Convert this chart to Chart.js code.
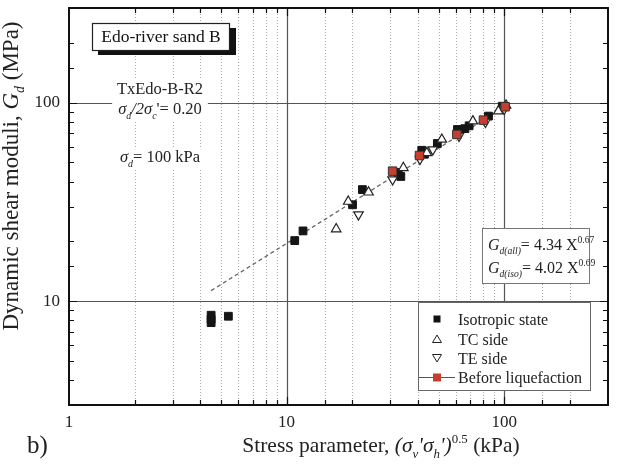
<!DOCTYPE html>
<html>
<head>
<meta charset="utf-8">
<script src="https://cdn.jsdelivr.net/npm/chart.js@4/dist/chart.umd.min.js"></script>
<style>
  body { margin: 0; background: #fff; }
  canvas { display: block; }
</style>
</head>
<body>
<canvas id="graphe" width="620" height="466"></canvas>
<script>
// ==== données ====

// Isotropic state (carrés noirs)
const xIso = [4.5, 4.5, 4.5, 5.4, 10.9, 11.9, 20.1, 22.3, 32.5, 33.5, 41.8, 43, 49.3, 61, 66, 69, 84.7, 98];
const yIso = [8.5, 8.1, 7.8, 8.4, 20.2, 22.6, 30.6, 36.5, 44.5, 42.5, 57.6, 55, 62.3, 73.3, 74, 76.5, 85.6, 96];

// TC side (triangles vers le haut)
const xTC = [16.9, 19.2, 23.8, 34.4, 44.1, 51.7, 71.8, 94, 102];
const yTC = [23.1, 31.8, 35.4, 47, 55.9, 65.3, 80.8, 90.7, 97];

// TE side (triangles vers le bas)
const xTE = [21.4, 30.7, 41, 47, 62, 82, 100];
const yTE = [27.3, 41.0, 52, 58, 68, 80, 93];

// Before liquefaction (carrés rouges)
const xAvant = [30.7, 40.8, 60.6, 80.3, 101];
const yAvant = [45.2, 54.2, 69.2, 81.7, 95.4];

// droite de régression (extrémités lues)
const xRegression = [4.5, 100];
const yRegression = [11.3, 95];

// étiquettes des axes
const xTickLabels = [1, 10, 100];
const yTickLabels = [10, 100];

const police = 'Liberation Serif';
const rouge = '#c63e2d';

function points(xs, ys) {
  return xs.map((v, i) => ({x: v, y: ys[i]}));
}

// ==== texte avec indices / exposants ====
function mesureRiche(ctx, morceaux, taille) {
  let w = 0;
  morceaux.forEach(m => {
    ctx.font = (m.it ? 'italic ' : '') + (m.pos ? taille * 0.6 : taille) + 'px "' + police + '"';
    w += ctx.measureText(m.t).width;
  });
  return w;
}

function texteRiche(ctx, morceaux, x, y, taille, centre) {
  const largeur = mesureRiche(ctx, morceaux, taille);
  let cx = centre ? x - largeur / 2 : x;
  ctx.textAlign = 'left';
  ctx.textBaseline = 'alphabetic';
  morceaux.forEach(m => {
    ctx.font = (m.it ? 'italic ' : '') + (m.pos ? taille * 0.6 : taille) + 'px "' + police + '"';
    const dy = m.pos === -1 ? taille * 0.28 : (m.pos === 1 ? -taille * 0.42 : 0);
    ctx.fillText(m.t, cx, y + dy);
    cx += ctx.measureText(m.t).width;
  });
  return largeur;
}

// ==== grille, cadre et annotations ====
const grille = {
  id: 'grille',
  beforeDatasetsDraw(chart) {
    const {ctx, chartArea: {top, bottom, left, right}, scales: {x, y}} = chart;
    ctx.save();
    // lignes verticales
    x.ticks.forEach(t => {
      const px = Math.round(x.getPixelForValue(t.value)) + 0.5;
      if (px <= left + 1 || px >= right - 1) return;
      ctx.beginPath();
      if (xTickLabels.includes(t.value)) {
        ctx.setLineDash([]);
        ctx.strokeStyle = '#555';
        ctx.lineWidth = 1.2;
      } else {
        ctx.setLineDash([1, 2]);
        ctx.strokeStyle = '#aaa';
        ctx.lineWidth = 1;
      }
      ctx.moveTo(px, top);
      ctx.lineTo(px, bottom);
      ctx.stroke();
    });
    // lignes horizontales (décades seulement)
    ctx.setLineDash([]);
    ctx.strokeStyle = '#555';
    ctx.lineWidth = 1.2;
    yTickLabels.forEach(v => {
      const py = Math.round(y.getPixelForValue(v)) + 0.5;
      ctx.beginPath();
      ctx.moveTo(left, py);
      ctx.lineTo(right, py);
      ctx.stroke();
    });

    // textes en haut à gauche, sur fond blanc
    const lignes = [
      {m: [{t: 'TxEdo-B-R2'}], y: 94},
      {m: [{t: 'σ', it: 1}, {t: 'd', it: 1, pos: -1}, {t: '/2σ', it: 1}, {t: 'c', it: 1, pos: -1}, {t: '\'= 0.20'}], y: 114},
      {m: [{t: 'σ', it: 1}, {t: 'd', it: 1, pos: -1}, {t: '= 100 kPa'}], y: 162}
    ];
    lignes.forEach(l => {
      const w = mesureRiche(ctx, l.m, 16.5);
      ctx.fillStyle = '#fff';
      ctx.fillRect(160 - w / 2 - 6, l.y - 14, w + 12, 20);
      ctx.fillStyle = '#222';
      texteRiche(ctx, l.m, 160, l.y, 16.5, true);
    });

    // cartouche du titre avec ombre
    ctx.fillStyle = '#111';
    ctx.fillRect(98, 28, 138, 27);
    ctx.fillStyle = '#fff';
    ctx.fillRect(92, 23, 137, 27);
    ctx.strokeStyle = '#222';
    ctx.lineWidth = 1.2;
    ctx.strokeRect(92.5, 23.5, 137, 27);
    ctx.fillStyle = '#111';
    texteRiche(ctx, [{t: 'Edo-river sand B'}], 161, 42, 17.5, true);
    ctx.restore();
  },
  afterDatasetsDraw(chart) {
    const {ctx, chartArea: {top, bottom, left, right}, scales: {x, y}} = chart;
    ctx.save();
    ctx.setLineDash([]);
    ctx.strokeStyle = '#111';
    ctx.lineWidth = 1.2;
    // graduations intérieures
    x.ticks.forEach(t => {
      const px = Math.round(x.getPixelForValue(t.value)) + 0.5;
      if (px <= left + 1 || px >= right - 1) return;
      const l = xTickLabels.includes(t.value) ? 8 : 5;
      ctx.beginPath();
      ctx.moveTo(px, bottom); ctx.lineTo(px, bottom - l);
      ctx.moveTo(px, top); ctx.lineTo(px, top + l);
      ctx.stroke();
    });
    y.ticks.forEach(t => {
      const py = Math.round(y.getPixelForValue(t.value)) + 0.5;
      if (py <= top + 1 || py >= bottom - 1) return;
      const l = yTickLabels.includes(t.value) ? 8 : 5;
      ctx.beginPath();
      ctx.moveTo(left, py); ctx.lineTo(left + l, py);
      ctx.moveTo(right, py); ctx.lineTo(right - l, py);
      ctx.stroke();
    });
    // cadre
    ctx.lineWidth = 2;
    ctx.strokeRect(left, top, right - left, bottom - top);

    // encadré des équations
    ctx.fillStyle = '#fff';
    ctx.fillRect(482, 228, 107, 55);
    ctx.strokeStyle = '#777';
    ctx.lineWidth = 1;
    ctx.strokeRect(482.5, 228.5, 107, 55);
    ctx.fillStyle = '#222';
    texteRiche(ctx, [{t: 'G', it: 1}, {t: 'd(all)', it: 1, pos: -1}, {t: '= 4.34 X'}, {t: '0.67', pos: 1}], 488, 250, 16, false);
    texteRiche(ctx, [{t: 'G', it: 1}, {t: 'd(iso)', it: 1, pos: -1}, {t: '= 4.02 X'}, {t: '0.69', pos: 1}], 488, 273, 16, false);

    // légende
    ctx.fillStyle = '#fff';
    ctx.fillRect(418, 302, 172, 88);
    ctx.strokeStyle = '#666';
    ctx.strokeRect(418.5, 302.5, 172, 88);
    const mx = 437;
    const rangs = [319, 339, 358, 377];
    // carré noir
    ctx.fillStyle = '#111';
    ctx.fillRect(mx - 3.5, rangs[0] - 3.5, 7, 7);
    // triangle haut
    ctx.strokeStyle = '#222';
    ctx.lineWidth = 1;
    ctx.beginPath();
    ctx.moveTo(mx, rangs[1] - 4); ctx.lineTo(mx + 4.5, rangs[1] + 3.5); ctx.lineTo(mx - 4.5, rangs[1] + 3.5); ctx.closePath();
    ctx.stroke();
    // triangle bas
    ctx.beginPath();
    ctx.moveTo(mx, rangs[2] + 4); ctx.lineTo(mx + 4.5, rangs[2] - 3.5); ctx.lineTo(mx - 4.5, rangs[2] - 3.5); ctx.closePath();
    ctx.stroke();
    // trait + carré rouge
    ctx.strokeStyle = '#555';
    ctx.lineWidth = 1.2;
    ctx.beginPath();
    ctx.moveTo(419, rangs[3] + 0.5); ctx.lineTo(455, rangs[3] + 0.5);
    ctx.stroke();
    ctx.fillStyle = rouge;
    ctx.fillRect(mx - 4, rangs[3] - 3.5, 8, 8);
    ctx.fillStyle = '#222';
    const noms = chart.data.datasets.filter(d => d.legende).map(d => d.label);
    noms.forEach((n, i) => texteRiche(ctx, [{t: n}], 458, rangs[i] + 6, 16, false));
    ctx.restore();
  },
  afterDraw(chart) {
    const {ctx} = chart;
    ctx.save();
    ctx.fillStyle = '#222';
    // titre axe x
    texteRiche(ctx, [{t: 'Stress parameter, '}, {t: '(σ', it: 1}, {t: 'v', it: 1, pos: -1}, {t: '\'σ', it: 1},
      {t: 'h', it: 1, pos: -1}, {t: '\')', it: 1}, {t: '0.5', pos: 1}, {t: ' (kPa)'}], 381, 452, 21.5, true);
    // titre axe y
    ctx.translate(18, 176);
    ctx.rotate(-Math.PI / 2);
    texteRiche(ctx, [{t: 'Dynamic shear moduli, '}, {t: 'G', it: 1}, {t: 'd', it: 1, pos: -1}, {t: ' (MPa)'}], 0, 0, 23, true);
    ctx.restore();
    ctx.save();
    ctx.fillStyle = '#222';
    texteRiche(ctx, [{t: 'b)'}], 27, 453, 25, false);
    ctx.restore();
  }
};

const data = {
  datasets: [
    {
      label: 'Isotropic state', legende: true,
      data: points(xIso, yIso),
      pointStyle: 'rect', pointRadius: 5.5,
      backgroundColor: '#151515', borderColor: '#151515', borderWidth: 1,
      order: 4
    },
    {
      label: 'TC side', legende: true,
      data: points(xTC, yTC),
      pointStyle: 'triangle', pointRadius: 5.5,
      backgroundColor: '#fff', borderColor: '#222', borderWidth: 1.2,
      order: 3
    },
    {
      label: 'TE side', legende: true,
      data: points(xTE, yTE),
      pointStyle: 'triangle', pointRotation: 180, pointRadius: 5.5,
      backgroundColor: '#fff', borderColor: '#222', borderWidth: 1.2,
      order: 2
    },
    {
      label: 'Before liquefaction', legende: true,
      data: points(xAvant, yAvant),
      pointStyle: 'rect', pointRadius: 6,
      backgroundColor: rouge, borderColor: '#333', borderWidth: 1,
      order: 1
    },
    {
      label: 'régression',
      data: points(xRegression, yRegression),
      showLine: true, pointRadius: 0,
      borderColor: '#666', borderWidth: 1.3, borderDash: [4, 3],
      order: 5
    }
  ]
};

// pas de marge automatique autour des axes : zone de tracé fixée
function sansMarges(scale) {
  scale.paddingTop = 0;
  scale.paddingBottom = 0;
  scale.paddingLeft = 0;
  scale.paddingRight = 0;
}

const config = {
  type: 'scatter',
  data,
  options: {
    responsive: false,
    animation: false,
    layout: {padding: {left: 0, right: 12, top: 8, bottom: 0}},
    scales: {
      x: {
        type: 'logarithmic', min: 1, max: 300,
        grid: {display: false, drawTicks: false},
        border: {display: false},
        afterFit(scale) { scale.height = 61; sansMarges(scale); },
        ticks: {
          autoSkip: false, maxRotation: 0, padding: 7,
          color: '#222', font: {family: police, size: 17},
          callback: v => xTickLabels.includes(v) ? String(v) : ''
        }
      },
      y: {
        type: 'logarithmic', min: 3, max: 300,
        grid: {display: false, drawTicks: false},
        border: {display: false},
        afterFit(scale) { scale.width = 69; sansMarges(scale); },
        ticks: {
          autoSkip: false, padding: 9,
          color: '#222', font: {family: police, size: 17},
          callback: v => yTickLabels.includes(v) ? String(v) : ''
        }
      }
    },
    plugins: {
      legend: {display: false},
      tooltip: {enabled: false}
    }
  },
  plugins: [grille]
};

const monGraphe = new Chart(document.getElementById('graphe'), config);
</script>
</body>
</html>
